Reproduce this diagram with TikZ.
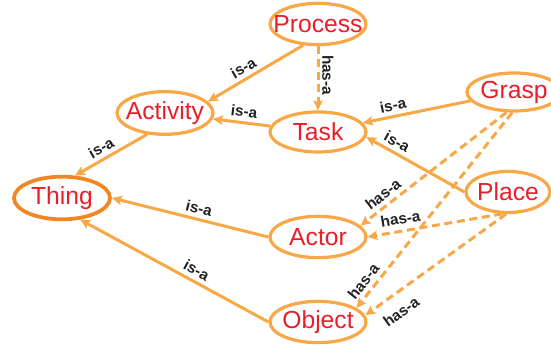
\documentclass[tikz,border=0pt]{standalone}
\usepackage{fontspec}
\setmainfont{Liberation Sans}
\usetikzlibrary{shapes.geometric,arrows.meta}
\definecolor{edgeorange}{RGB}{248,168,70}
\definecolor{thingorange}{RGB}{240,135,35}
\definecolor{namered}{RGB}{232,30,42}
\definecolor{labelgray}{RGB}{34,34,34}
\tikzset{concept/.style={ellipse,draw=edgeorange,line width=2.4pt,inner sep=0pt,
    minimum width=72pt,minimum height=31pt},
  conceptname/.style={font=\fontsize{18.5}{18.5}\selectfont,text=namered,inner sep=0pt},
  isa/.style={draw=edgeorange,line width=2.25pt,-{Stealth[length=7.5pt,width=7pt,inset=1.5pt]}},
  hasa/.style={isa,dash pattern=on 6pt off 3.5pt},
  rel/.style={font=\bfseries\fontsize{11.5}{11.5}\selectfont,text=labelgray,inner sep=3pt}}

\begin{document}
\begin{tikzpicture}[x=0.75pt,y=0.75pt]
\useasboundingbox (0,0) rectangle (551,-348);

%Concepts
\node[concept,label={[conceptname]center:Process}] (proc) at (318,-24) {};
\node[concept,label={[conceptname]center:Activity},minimum height=32pt] (act) at (165,-113) {};
\node[concept,label={[conceptname]center:Task},minimum height=30pt] (task) at (318,-132) {};
\node[concept,label={[conceptname]center:Grasp},minimum width=70.5pt,minimum height=28.5pt] (grasp) at (514,-92) {};
\node[concept,label={[conceptname]center:Place},minimum width=63pt,minimum height=30.75pt] (place) at (508,-192) {};
\node[concept,label={[conceptname]center:Thing},draw=thingorange,line width=2.8pt,minimum height=32pt] (thing) at (62,-198) {};
\node[concept,label={[conceptname]center:Actor}] (actor) at (318,-237) {};
\node[concept,label={[conceptname]center:Object}] (obj) at (318,-322) {};

%is-a links
\draw[isa] (proc.-125) -- node[rel,sloped,above,pos=0.57] {is-a} (act.15);
\draw[isa] (task) -- node[rel,sloped,above,pos=0.48] {is-a} (act);
\draw[isa] (act.-130) -- node[rel,sloped,above,pos=0.56] {is-a} (thing.60);
\draw[isa] (grasp) -- node[rel,sloped,above,pos=0.7] {is-a} (task);
\draw[isa] (place.west) -- node[rel,sloped,above,pos=0.74] {is-a} (task.-6);
\draw[isa] (actor.west) -- node[rel,sloped,above,pos=0.46] {is-a} (thing.east);
\draw[isa] (obj.west) -- node[rel,sloped,above,pos=0.41] {is-a} (thing.-50);

%has-a links
\draw[hasa] (proc.south) -- node[rel,rotate=-90,anchor=south,pos=0.45,inner sep=2pt] {has-a} (task.north);
\draw[hasa] (grasp.-110) -- node[rel,sloped,above,pos=0.8] {has-a} (actor.15);
\draw[hasa] (place.-105) -- node[rel,sloped,above=1pt,pos=0.74] {has-a} (actor.east);
\draw[hasa] (grasp.-95) -- node[rel,sloped,above,pos=0.9] {has-a} (obj.20);
\draw[hasa] (place.-95) -- node[rel,sloped,below=5pt,pos=0.82] {has-a} (obj.8);

\end{tikzpicture}
\end{document}
